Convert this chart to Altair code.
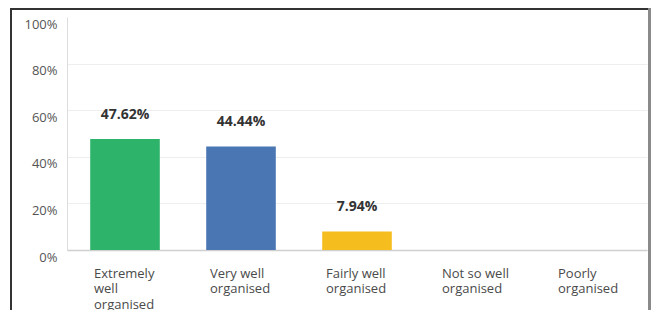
import altair as alt
import pandas as pd

categories = [
    "Extremely\nwell\norganised",
    "Very well\norganised",
    "Fairly well\norganised",
    "Not so well\norganised",
    "Poorly\norganised",
]
values = [47.62, 44.44, 7.94, 0.0, 0.0]
colors = ["#2DB46A", "#4A77B4", "#F5BE1E", "#9B9B9B", "#D25F5F"]
y_ticks = [0, 10, 20, 30, 40, 50, 60, 70, 80, 90, 100]

df = pd.DataFrame({"category": categories, "value": values})

FONT = "Open Sans"

x_enc = alt.X(
    "category:N",
    sort=categories,
    scale=alt.Scale(paddingInner=0.4, paddingOuter=0.2),
    axis=alt.Axis(
        title=None,
        ticks=False,
        labelAngle=0,
        labelAlign="left",
        labelBaseline="top",
        labelOffset=-31,
        labelPadding=17,
        labelLineHeight=15.5,
        labelFont=FONT,
        labelFontSize=13,
        labelColor="#4a4a4a",
        labelExpr="split(datum.label, '\\n')",
        domainColor="#cfcfcf",
        domainWidth=1.5,
        grid=False,
    ),
)

y_enc = alt.Y(
    "value:Q",
    scale=alt.Scale(domain=[0, 100], nice=False),
    axis=alt.Axis(
        title=None,
        values=y_ticks,
        ticks=False,
        labelExpr="datum.value % 20 == 0 ? datum.value + '%' : ''",
        labelFont=FONT,
        labelFontSize=13,
        labelColor="#555555",
        labelPadding=10,
        labelOffset=7,
        domainColor="#dddddd",
        gridColor={"condition": {"test": "datum.value >= 100", "value": "transparent"}, "value": "#eeeeee"},
        gridWidth=1,
    ),
)

bars = alt.Chart(df).mark_bar().encode(
    x=x_enc,
    y=y_enc,
    color=alt.Color("category:N", sort=categories,
                    scale=alt.Scale(domain=categories, range=colors), legend=None),
)

labels = alt.Chart(df).transform_filter("datum.value > 0").transform_calculate(
    lbl="format(datum.value, '.2f') + '%'"
).mark_text(
    font=FONT, fontSize=14, fontWeight="bold", color="#333333", baseline="middle", dy=-24
).encode(
    x=alt.X("category:N", sort=categories),
    y=alt.Y("value:Q"),
    text="lbl:N",
)

frame = alt.Chart(alt.Data(values=[{}]))
left_border = frame.mark_rule(color="#333333", strokeWidth=2).encode(
    x=alt.value(-56), y=alt.value(-9), y2=alt.value(320))
top_border = frame.mark_rule(color="#333333", strokeWidth=2).encode(
    x=alt.value(-57), x2=alt.value(590), y=alt.value(-8))
right_border = frame.mark_rule(color="#8a8a8a", strokeWidth=3).encode(
    x=alt.value(582.5), y=alt.value(-9), y2=alt.value(320))

chart = alt.layer(bars, labels, left_border, top_border, right_border).properties(
    width=580,
    height=233,
    autosize=alt.AutoSizeParams(type="none"),
    padding={"left": 59, "top": 9, "right": 4, "bottom": 60},
    background="white",
).configure_view(stroke=None)

chart.save("out.html", embed_options={"renderer": "svg", "actions": False})
